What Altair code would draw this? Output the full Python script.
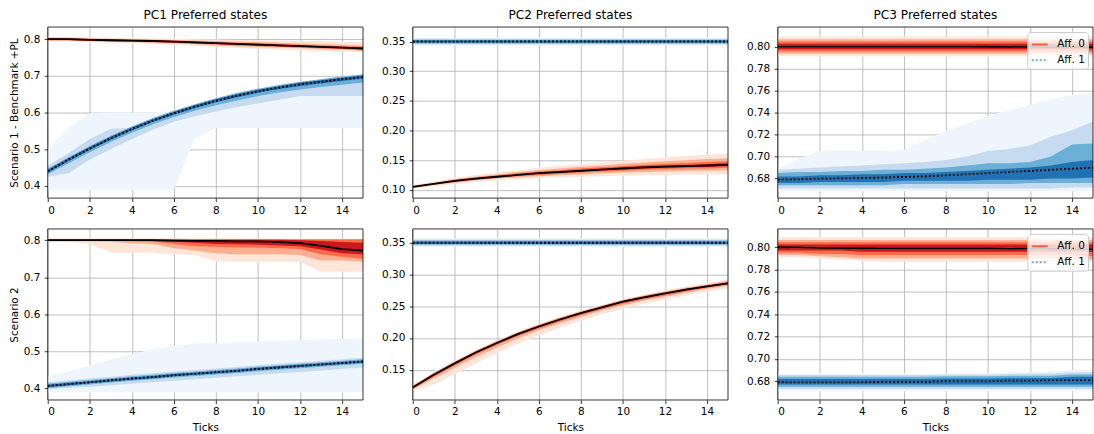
import altair as alt
import pandas as pd

# ---------------- shared categories / labels ----------------
TICKS = [0, 1, 2, 3, 4, 5, 6, 7, 8, 9, 10, 11, 12, 13, 14, 15]
X_TICK_VALUES = [0, 2, 4, 6, 8, 10, 12, 14]
COL_TITLES = ["PC1 Preferred states", "PC2 Preferred states", "PC3 Preferred states"]
ROW_TITLES = ["Scenario 1 - Benchmark +PL", "Scenario 2"]
SERIES_NAMES = ["Aff. 0", "Aff. 1"]

# y axis ticks per column
PC1_YTICKS = [0.4, 0.5, 0.6, 0.7, 0.8]
PC2_S1_YTICKS = [0.10, 0.15, 0.20, 0.25, 0.30, 0.35]
PC2_S2_YTICKS = [0.15, 0.20, 0.25, 0.30, 0.35]
PC3_YTICKS = [0.68, 0.70, 0.72, 0.74, 0.76, 0.78, 0.80]

# ---------------- PC1, scenario 1 ----------------
PC1_S1_A0_MED = [0.800, 0.800, 0.798, 0.797, 0.796, 0.795, 0.793, 0.791, 0.789, 0.787, 0.785, 0.783, 0.781, 0.779, 0.777, 0.775]
PC1_S1_A0_P05 = [0.794, 0.794, 0.792, 0.790, 0.789, 0.787, 0.785, 0.782, 0.779, 0.776, 0.774, 0.772, 0.770, 0.768, 0.766, 0.764]
PC1_S1_A0_P95 = [0.806, 0.806, 0.805, 0.804, 0.803, 0.802, 0.801, 0.800, 0.799, 0.798, 0.797, 0.796, 0.795, 0.794, 0.793, 0.792]
PC1_S1_A0_P10 = [0.796, 0.796, 0.794, 0.793, 0.792, 0.790, 0.788, 0.786, 0.783, 0.781, 0.779, 0.777, 0.775, 0.773, 0.771, 0.768]
PC1_S1_A0_P90 = [0.804, 0.804, 0.802, 0.801, 0.800, 0.799, 0.798, 0.796, 0.795, 0.793, 0.792, 0.790, 0.788, 0.786, 0.785, 0.783]
PC1_S1_A0_P25 = [0.797, 0.797, 0.795, 0.794, 0.793, 0.792, 0.790, 0.788, 0.786, 0.783, 0.781, 0.779, 0.777, 0.775, 0.773, 0.770]
PC1_S1_A0_P75 = [0.803, 0.803, 0.801, 0.800, 0.799, 0.798, 0.796, 0.794, 0.792, 0.790, 0.789, 0.787, 0.785, 0.783, 0.781, 0.779]
PC1_S1_A0_P40 = [0.798, 0.798, 0.796, 0.795, 0.794, 0.793, 0.791, 0.789, 0.787, 0.785, 0.783, 0.781, 0.779, 0.777, 0.775, 0.772]
PC1_S1_A0_P60 = [0.802, 0.802, 0.800, 0.799, 0.798, 0.797, 0.795, 0.793, 0.791, 0.789, 0.787, 0.785, 0.783, 0.781, 0.779, 0.777]

PC1_S1_A1_MED = [0.440, 0.472, 0.502, 0.530, 0.555, 0.578, 0.598, 0.616, 0.632, 0.646, 0.658, 0.668, 0.677, 0.684, 0.691, 0.697]
PC1_S1_A1_P05 = [0.390, 0.390, 0.390, 0.390, 0.390, 0.390, 0.390, 0.530, 0.557, 0.557, 0.557, 0.557, 0.557, 0.557, 0.557, 0.557]
PC1_S1_A1_P95 = [0.500, 0.560, 0.598, 0.600, 0.600, 0.600, 0.605, 0.622, 0.638, 0.652, 0.664, 0.674, 0.683, 0.691, 0.698, 0.706]
PC1_S1_A1_P10 = [0.425, 0.435, 0.472, 0.500, 0.528, 0.553, 0.575, 0.590, 0.603, 0.615, 0.625, 0.635, 0.645, 0.645, 0.645, 0.645]
PC1_S1_A1_P90 = [0.455, 0.490, 0.528, 0.556, 0.558, 0.582, 0.602, 0.620, 0.636, 0.650, 0.662, 0.672, 0.681, 0.689, 0.696, 0.704]
PC1_S1_A1_P25 = [0.432, 0.462, 0.492, 0.520, 0.545, 0.568, 0.588, 0.605, 0.620, 0.633, 0.645, 0.655, 0.663, 0.670, 0.676, 0.682]
PC1_S1_A1_P75 = [0.447, 0.479, 0.509, 0.537, 0.562, 0.585, 0.605, 0.623, 0.639, 0.653, 0.665, 0.675, 0.684, 0.691, 0.698, 0.704]
PC1_S1_A1_P40 = [0.436, 0.468, 0.498, 0.526, 0.551, 0.574, 0.594, 0.612, 0.628, 0.642, 0.654, 0.664, 0.672, 0.679, 0.686, 0.692]
PC1_S1_A1_P60 = [0.444, 0.476, 0.506, 0.534, 0.559, 0.582, 0.602, 0.620, 0.636, 0.650, 0.662, 0.672, 0.681, 0.688, 0.695, 0.701]

# ---------------- PC2, scenario 1 ----------------
PC2_S1_A0_MED = [0.105, 0.110, 0.115, 0.119, 0.122, 0.125, 0.128, 0.130, 0.132, 0.134, 0.136, 0.138, 0.139, 0.140, 0.141, 0.142]
PC2_S1_A0_P05 = [0.102, 0.106, 0.110, 0.113, 0.116, 0.118, 0.120, 0.121, 0.122, 0.123, 0.124, 0.125, 0.125, 0.126, 0.126, 0.126]
PC2_S1_A0_P95 = [0.108, 0.114, 0.120, 0.125, 0.129, 0.133, 0.137, 0.140, 0.143, 0.146, 0.149, 0.152, 0.155, 0.157, 0.159, 0.161]
PC2_S1_A0_P10 = [0.103, 0.108, 0.112, 0.116, 0.119, 0.121, 0.123, 0.125, 0.126, 0.128, 0.129, 0.130, 0.131, 0.132, 0.132, 0.133]
PC2_S1_A0_P90 = [0.107, 0.112, 0.118, 0.122, 0.126, 0.130, 0.133, 0.136, 0.139, 0.141, 0.144, 0.146, 0.148, 0.150, 0.152, 0.153]
PC2_S1_A0_P25 = [0.104, 0.109, 0.113, 0.117, 0.120, 0.123, 0.125, 0.127, 0.129, 0.131, 0.132, 0.134, 0.135, 0.136, 0.136, 0.137]
PC2_S1_A0_P75 = [0.106, 0.111, 0.117, 0.121, 0.124, 0.128, 0.131, 0.133, 0.136, 0.138, 0.140, 0.142, 0.144, 0.145, 0.147, 0.148]
PC2_S1_A0_P40 = [0.1045, 0.1095, 0.114, 0.118, 0.121, 0.124, 0.127, 0.129, 0.131, 0.133, 0.134, 0.136, 0.137, 0.138, 0.139, 0.140]
PC2_S1_A0_P60 = [0.1055, 0.1105, 0.116, 0.120, 0.123, 0.126, 0.129, 0.131, 0.134, 0.136, 0.138, 0.140, 0.141, 0.142, 0.143, 0.145]

PC2_S1_A1_MED = [0.350, 0.350, 0.350, 0.350, 0.350, 0.350, 0.350, 0.350, 0.350, 0.350, 0.350, 0.350, 0.350, 0.350, 0.350, 0.350]
PC2_S1_A1_P05 = [0.3435, 0.3435, 0.3435, 0.3435, 0.3435, 0.3435, 0.3435, 0.3435, 0.3435, 0.3435, 0.3435, 0.3435, 0.3435, 0.3435, 0.3435, 0.3435]
PC2_S1_A1_P95 = [0.3565, 0.3565, 0.3565, 0.3565, 0.3565, 0.3565, 0.3565, 0.3565, 0.3565, 0.3565, 0.3565, 0.3565, 0.3565, 0.3565, 0.3565, 0.3565]
PC2_S1_A1_P10 = [0.3452, 0.3452, 0.3452, 0.3452, 0.3452, 0.3452, 0.3452, 0.3452, 0.3452, 0.3452, 0.3452, 0.3452, 0.3452, 0.3452, 0.3452, 0.3452]
PC2_S1_A1_P90 = [0.3548, 0.3548, 0.3548, 0.3548, 0.3548, 0.3548, 0.3548, 0.3548, 0.3548, 0.3548, 0.3548, 0.3548, 0.3548, 0.3548, 0.3548, 0.3548]
PC2_S1_A1_P25 = [0.3468, 0.3468, 0.3468, 0.3468, 0.3468, 0.3468, 0.3468, 0.3468, 0.3468, 0.3468, 0.3468, 0.3468, 0.3468, 0.3468, 0.3468, 0.3468]
PC2_S1_A1_P75 = [0.3532, 0.3532, 0.3532, 0.3532, 0.3532, 0.3532, 0.3532, 0.3532, 0.3532, 0.3532, 0.3532, 0.3532, 0.3532, 0.3532, 0.3532, 0.3532]
PC2_S1_A1_P40 = [0.3484, 0.3484, 0.3484, 0.3484, 0.3484, 0.3484, 0.3484, 0.3484, 0.3484, 0.3484, 0.3484, 0.3484, 0.3484, 0.3484, 0.3484, 0.3484]
PC2_S1_A1_P60 = [0.3516, 0.3516, 0.3516, 0.3516, 0.3516, 0.3516, 0.3516, 0.3516, 0.3516, 0.3516, 0.3516, 0.3516, 0.3516, 0.3516, 0.3516, 0.3516]

# ---------------- PC3, scenario 1 ----------------
PC3_S1_A0_MED = [0.800, 0.800, 0.800, 0.800, 0.800, 0.800, 0.800, 0.800, 0.800, 0.800, 0.7998, 0.7997, 0.7996, 0.7995, 0.7995, 0.7995]
PC3_S1_A0_P05 = [0.791, 0.791, 0.791, 0.791, 0.791, 0.791, 0.791, 0.791, 0.791, 0.791, 0.791, 0.791, 0.791, 0.791, 0.791, 0.791]
PC3_S1_A0_P95 = [0.809, 0.809, 0.809, 0.809, 0.809, 0.809, 0.809, 0.809, 0.809, 0.809, 0.809, 0.809, 0.809, 0.809, 0.809, 0.809]
PC3_S1_A0_P10 = [0.7935, 0.7935, 0.7935, 0.7935, 0.7935, 0.7935, 0.7935, 0.7935, 0.7935, 0.7935, 0.7935, 0.7935, 0.7935, 0.7935, 0.7935, 0.7935]
PC3_S1_A0_P90 = [0.8065, 0.8065, 0.8065, 0.8065, 0.8065, 0.8065, 0.8065, 0.8065, 0.8065, 0.8065, 0.8065, 0.8065, 0.8065, 0.8065, 0.8065, 0.8065]
PC3_S1_A0_P25 = [0.7955, 0.7955, 0.7955, 0.7955, 0.7955, 0.7955, 0.7955, 0.7955, 0.7955, 0.7955, 0.7955, 0.7955, 0.7955, 0.7955, 0.7955, 0.7955]
PC3_S1_A0_P75 = [0.8045, 0.8045, 0.8045, 0.8045, 0.8045, 0.8045, 0.8045, 0.8045, 0.8045, 0.8045, 0.8045, 0.8045, 0.8045, 0.8045, 0.8045, 0.8045]
PC3_S1_A0_P40 = [0.7975, 0.7975, 0.7975, 0.7975, 0.7975, 0.7975, 0.7975, 0.7975, 0.7975, 0.7975, 0.7975, 0.7975, 0.7975, 0.7975, 0.7975, 0.7975]
PC3_S1_A0_P60 = [0.8025, 0.8025, 0.8025, 0.8025, 0.8025, 0.8025, 0.8025, 0.8025, 0.8025, 0.8025, 0.8025, 0.8025, 0.8025, 0.8025, 0.8025, 0.8025]

PC3_S1_A1_MED = [0.679, 0.6795, 0.680, 0.6803, 0.6806, 0.681, 0.6815, 0.682, 0.683, 0.684, 0.685, 0.686, 0.687, 0.688, 0.689, 0.690]
PC3_S1_A1_P05 = [0.6685, 0.6685, 0.6685, 0.6685, 0.6685, 0.6685, 0.6685, 0.6685, 0.6685, 0.6685, 0.6685, 0.6685, 0.6685, 0.6685, 0.6685, 0.6685]
PC3_S1_A1_P95 = [0.689, 0.698, 0.705, 0.705, 0.705, 0.705, 0.706, 0.715, 0.723, 0.730, 0.737, 0.742, 0.747, 0.752, 0.756, 0.758]
PC3_S1_A1_P10 = [0.671, 0.671, 0.671, 0.671, 0.671, 0.671, 0.671, 0.671, 0.671, 0.671, 0.671, 0.671, 0.671, 0.671, 0.672, 0.672]
PC3_S1_A1_P90 = [0.688, 0.689, 0.690, 0.691, 0.692, 0.693, 0.694, 0.695, 0.697, 0.700, 0.705, 0.707, 0.710, 0.718, 0.724, 0.732]
PC3_S1_A1_P25 = [0.674, 0.674, 0.674, 0.674, 0.674, 0.674, 0.675, 0.675, 0.675, 0.675, 0.675, 0.675, 0.676, 0.676, 0.676, 0.676]
PC3_S1_A1_P75 = [0.685, 0.686, 0.686, 0.687, 0.687, 0.688, 0.688, 0.689, 0.690, 0.692, 0.694, 0.694, 0.695, 0.700, 0.711, 0.712]
PC3_S1_A1_P40 = [0.676, 0.676, 0.677, 0.677, 0.677, 0.677, 0.678, 0.678, 0.678, 0.678, 0.679, 0.679, 0.679, 0.680, 0.680, 0.681]
PC3_S1_A1_P60 = [0.682, 0.682, 0.683, 0.683, 0.684, 0.684, 0.685, 0.685, 0.686, 0.687, 0.688, 0.689, 0.690, 0.692, 0.695, 0.697]

# ---------------- PC1, scenario 2 ----------------
PC1_S2_A0_MED = [0.800, 0.800, 0.800, 0.800, 0.800, 0.800, 0.799, 0.798, 0.798, 0.797, 0.797, 0.795, 0.792, 0.785, 0.776, 0.772]
PC1_S2_A0_P05 = [0.795, 0.795, 0.790, 0.766, 0.766, 0.766, 0.762, 0.760, 0.743, 0.742, 0.742, 0.742, 0.742, 0.715, 0.715, 0.715]
PC1_S2_A0_P95 = [0.805, 0.805, 0.805, 0.805, 0.805, 0.805, 0.805, 0.805, 0.805, 0.805, 0.804, 0.804, 0.804, 0.804, 0.804, 0.804]
PC1_S2_A0_P10 = [0.797, 0.797, 0.797, 0.796, 0.792, 0.790, 0.778, 0.772, 0.765, 0.762, 0.762, 0.762, 0.760, 0.745, 0.745, 0.742]
PC1_S2_A0_P90 = [0.803, 0.803, 0.803, 0.803, 0.803, 0.803, 0.803, 0.803, 0.803, 0.803, 0.803, 0.803, 0.803, 0.803, 0.803, 0.803]
PC1_S2_A0_P25 = [0.798, 0.798, 0.798, 0.798, 0.797, 0.796, 0.790, 0.784, 0.782, 0.781, 0.780, 0.778, 0.776, 0.762, 0.755, 0.750]
PC1_S2_A0_P75 = [0.802, 0.802, 0.802, 0.802, 0.802, 0.802, 0.802, 0.802, 0.802, 0.802, 0.802, 0.802, 0.802, 0.802, 0.802, 0.802]
PC1_S2_A0_P40 = [0.799, 0.799, 0.799, 0.799, 0.799, 0.798, 0.796, 0.793, 0.790, 0.789, 0.788, 0.786, 0.784, 0.775, 0.765, 0.762]
PC1_S2_A0_P60 = [0.801, 0.801, 0.801, 0.801, 0.801, 0.801, 0.801, 0.801, 0.801, 0.801, 0.801, 0.801, 0.800, 0.798, 0.795, 0.793]

PC1_S2_A1_MED = [0.406, 0.411, 0.416, 0.421, 0.426, 0.430, 0.435, 0.439, 0.443, 0.447, 0.452, 0.456, 0.460, 0.464, 0.468, 0.472]
PC1_S2_A1_P05 = [0.389, 0.389, 0.389, 0.389, 0.389, 0.389, 0.389, 0.389, 0.389, 0.389, 0.389, 0.389, 0.389, 0.389, 0.389, 0.389]
PC1_S2_A1_P95 = [0.432, 0.445, 0.462, 0.478, 0.492, 0.505, 0.515, 0.520, 0.522, 0.524, 0.526, 0.528, 0.530, 0.532, 0.533, 0.534]
PC1_S2_A1_P10 = [0.397, 0.401, 0.404, 0.408, 0.412, 0.416, 0.420, 0.424, 0.428, 0.432, 0.436, 0.440, 0.444, 0.448, 0.452, 0.456]
PC1_S2_A1_P90 = [0.416, 0.421, 0.426, 0.431, 0.436, 0.440, 0.445, 0.449, 0.453, 0.457, 0.462, 0.466, 0.470, 0.474, 0.478, 0.482]
PC1_S2_A1_P25 = [0.400, 0.405, 0.410, 0.415, 0.420, 0.424, 0.429, 0.433, 0.437, 0.441, 0.446, 0.450, 0.454, 0.458, 0.462, 0.466]
PC1_S2_A1_P75 = [0.412, 0.417, 0.422, 0.427, 0.432, 0.436, 0.441, 0.445, 0.449, 0.453, 0.458, 0.462, 0.466, 0.470, 0.474, 0.478]
PC1_S2_A1_P40 = [0.403, 0.408, 0.413, 0.418, 0.423, 0.427, 0.432, 0.436, 0.440, 0.444, 0.449, 0.453, 0.457, 0.461, 0.465, 0.469]
PC1_S2_A1_P60 = [0.409, 0.414, 0.419, 0.424, 0.429, 0.433, 0.438, 0.442, 0.446, 0.450, 0.455, 0.459, 0.463, 0.467, 0.471, 0.475]

# ---------------- PC2, scenario 2 ----------------
PC2_S2_A0_MED = [0.122, 0.142, 0.160, 0.177, 0.192, 0.206, 0.218, 0.229, 0.239, 0.248, 0.257, 0.264, 0.270, 0.276, 0.281, 0.286]
PC2_S2_A0_P05 = [0.117, 0.127, 0.143, 0.160, 0.176, 0.191, 0.204, 0.216, 0.227, 0.237, 0.246, 0.254, 0.261, 0.267, 0.273, 0.278]
PC2_S2_A0_P95 = [0.126, 0.146, 0.164, 0.181, 0.196, 0.210, 0.222, 0.233, 0.243, 0.252, 0.261, 0.268, 0.275, 0.281, 0.286, 0.292]
PC2_S2_A0_P10 = [0.119, 0.136, 0.153, 0.170, 0.185, 0.199, 0.212, 0.223, 0.233, 0.243, 0.251, 0.259, 0.265, 0.271, 0.277, 0.282]
PC2_S2_A0_P90 = [0.125, 0.145, 0.163, 0.180, 0.195, 0.209, 0.221, 0.232, 0.242, 0.251, 0.260, 0.267, 0.273, 0.279, 0.284, 0.290]
PC2_S2_A0_P25 = [0.120, 0.139, 0.157, 0.174, 0.189, 0.203, 0.215, 0.226, 0.236, 0.245, 0.254, 0.261, 0.267, 0.273, 0.279, 0.284]
PC2_S2_A0_P75 = [0.124, 0.144, 0.162, 0.179, 0.194, 0.208, 0.220, 0.231, 0.241, 0.250, 0.259, 0.266, 0.272, 0.278, 0.283, 0.288]
PC2_S2_A0_P40 = [0.121, 0.141, 0.159, 0.176, 0.191, 0.205, 0.217, 0.228, 0.238, 0.247, 0.256, 0.263, 0.269, 0.275, 0.280, 0.285]
PC2_S2_A0_P60 = [0.123, 0.143, 0.161, 0.178, 0.193, 0.207, 0.219, 0.230, 0.240, 0.249, 0.258, 0.265, 0.271, 0.277, 0.282, 0.287]

PC2_S2_A1_MED = [0.350, 0.350, 0.350, 0.350, 0.350, 0.350, 0.350, 0.350, 0.350, 0.350, 0.350, 0.350, 0.350, 0.350, 0.350, 0.350]
PC2_S2_A1_P05 = [0.3434, 0.3434, 0.3434, 0.3434, 0.3434, 0.3434, 0.3434, 0.3434, 0.3434, 0.3434, 0.3434, 0.3434, 0.3434, 0.3434, 0.3434, 0.3434]
PC2_S2_A1_P95 = [0.3566, 0.3566, 0.3566, 0.3566, 0.3566, 0.3566, 0.3566, 0.3566, 0.3566, 0.3566, 0.3566, 0.3566, 0.3566, 0.3566, 0.3566, 0.3566]
PC2_S2_A1_P10 = [0.345, 0.345, 0.345, 0.345, 0.345, 0.345, 0.345, 0.345, 0.345, 0.345, 0.345, 0.345, 0.345, 0.345, 0.345, 0.345]
PC2_S2_A1_P90 = [0.355, 0.355, 0.355, 0.355, 0.355, 0.355, 0.355, 0.355, 0.355, 0.355, 0.355, 0.355, 0.355, 0.355, 0.355, 0.355]
PC2_S2_A1_P25 = [0.3467, 0.3467, 0.3467, 0.3467, 0.3467, 0.3467, 0.3467, 0.3467, 0.3467, 0.3467, 0.3467, 0.3467, 0.3467, 0.3467, 0.3467, 0.3467]
PC2_S2_A1_P75 = [0.3533, 0.3533, 0.3533, 0.3533, 0.3533, 0.3533, 0.3533, 0.3533, 0.3533, 0.3533, 0.3533, 0.3533, 0.3533, 0.3533, 0.3533, 0.3533]
PC2_S2_A1_P40 = [0.3484, 0.3484, 0.3484, 0.3484, 0.3484, 0.3484, 0.3484, 0.3484, 0.3484, 0.3484, 0.3484, 0.3484, 0.3484, 0.3484, 0.3484, 0.3484]
PC2_S2_A1_P60 = [0.3516, 0.3516, 0.3516, 0.3516, 0.3516, 0.3516, 0.3516, 0.3516, 0.3516, 0.3516, 0.3516, 0.3516, 0.3516, 0.3516, 0.3516, 0.3516]

# ---------------- PC3, scenario 2 ----------------
PC3_S2_A0_MED = [0.800, 0.7998, 0.7995, 0.7993, 0.7991, 0.799, 0.799, 0.799, 0.799, 0.799, 0.799, 0.7988, 0.7987, 0.7985, 0.7982, 0.798]
PC3_S2_A0_P05 = [0.791, 0.791, 0.790, 0.789, 0.788, 0.787, 0.787, 0.787, 0.787, 0.787, 0.787, 0.787, 0.787, 0.787, 0.787, 0.787]
PC3_S2_A0_P95 = [0.809, 0.809, 0.809, 0.809, 0.809, 0.809, 0.809, 0.809, 0.809, 0.809, 0.809, 0.809, 0.809, 0.809, 0.809, 0.809]
PC3_S2_A0_P10 = [0.793, 0.793, 0.792, 0.791, 0.790, 0.790, 0.790, 0.790, 0.790, 0.790, 0.790, 0.790, 0.790, 0.790, 0.789, 0.789]
PC3_S2_A0_P90 = [0.8065, 0.8065, 0.8065, 0.8065, 0.8065, 0.8065, 0.8065, 0.8065, 0.8065, 0.8065, 0.8065, 0.8065, 0.8065, 0.8065, 0.8065, 0.8065]
PC3_S2_A0_P25 = [0.795, 0.795, 0.794, 0.794, 0.793, 0.793, 0.793, 0.793, 0.793, 0.793, 0.793, 0.793, 0.793, 0.793, 0.793, 0.792]
PC3_S2_A0_P75 = [0.8045, 0.8045, 0.8045, 0.8045, 0.8045, 0.8045, 0.8045, 0.8045, 0.8045, 0.8045, 0.8045, 0.8045, 0.8045, 0.8045, 0.8045, 0.8045]
PC3_S2_A0_P40 = [0.797, 0.797, 0.797, 0.797, 0.796, 0.796, 0.796, 0.796, 0.796, 0.796, 0.796, 0.796, 0.796, 0.796, 0.796, 0.796]
PC3_S2_A0_P60 = [0.8025, 0.8025, 0.8025, 0.8025, 0.8025, 0.8025, 0.8025, 0.8025, 0.8025, 0.8025, 0.8025, 0.8025, 0.8025, 0.8025, 0.8025, 0.8025]

PC3_S2_A1_MED = [0.679, 0.679, 0.679, 0.679, 0.679, 0.6795, 0.6795, 0.6795, 0.680, 0.680, 0.680, 0.6805, 0.6805, 0.681, 0.681, 0.681]
PC3_S2_A1_P05 = [0.671, 0.671, 0.671, 0.671, 0.671, 0.671, 0.671, 0.671, 0.671, 0.671, 0.671, 0.671, 0.671, 0.671, 0.671, 0.671]
PC3_S2_A1_P95 = [0.687, 0.687, 0.687, 0.687, 0.687, 0.687, 0.687, 0.687, 0.687, 0.687, 0.687, 0.688, 0.688, 0.689, 0.690, 0.690]
PC3_S2_A1_P10 = [0.673, 0.673, 0.673, 0.673, 0.673, 0.673, 0.673, 0.673, 0.673, 0.673, 0.673, 0.673, 0.673, 0.673, 0.673, 0.673]
PC3_S2_A1_P90 = [0.6855, 0.6855, 0.6855, 0.6855, 0.6855, 0.6855, 0.6855, 0.6855, 0.686, 0.686, 0.686, 0.6865, 0.687, 0.687, 0.688, 0.688]
PC3_S2_A1_P25 = [0.675, 0.675, 0.675, 0.675, 0.675, 0.675, 0.675, 0.675, 0.675, 0.675, 0.675, 0.675, 0.675, 0.675, 0.675, 0.675]
PC3_S2_A1_P75 = [0.684, 0.684, 0.684, 0.684, 0.684, 0.684, 0.684, 0.684, 0.6845, 0.6845, 0.6845, 0.685, 0.685, 0.685, 0.686, 0.686]
PC3_S2_A1_P40 = [0.677, 0.677, 0.677, 0.677, 0.677, 0.677, 0.677, 0.677, 0.677, 0.677, 0.677, 0.677, 0.677, 0.677, 0.677, 0.677]
PC3_S2_A1_P60 = [0.682, 0.682, 0.682, 0.682, 0.682, 0.682, 0.682, 0.682, 0.6825, 0.6825, 0.6825, 0.683, 0.683, 0.683, 0.684, 0.684]

# ---------------- styling ----------------
REDS = ["#fee5d9", "#fcae91", "#fb6a4a", "#cb181d"]
BLUES = ["#eef5fc", "#c6dbef", "#6baed6", "#2171b5"]
LEGEND_COLORS = ["#f4603f", "#6baed6"]
FONT = "DejaVu Sans"
W = 317
H = 172


def bands(p05, p95, p10, p90, p25, p75, p40, p60):
    return [(p05, p95), (p10, p90), (p25, p75), (p40, p60)]


def panel(col, row, ydom, yticks, yfmt, red_med, red_bands, blue_med, blue_bands, legend):
    xenc = alt.X(
        "t:Q",
        scale=alt.Scale(domain=[0, 15], nice=False, zero=False),
        axis=alt.Axis(values=X_TICK_VALUES, title="Ticks" if row == 1 else None, format="d"),
    )

    def yenc(field):
        return alt.Y(
            field + ":Q",
            scale=alt.Scale(domain=ydom, nice=False, zero=False),
            axis=alt.Axis(values=yticks, format=yfmt,
                          title=ROW_TITLES[row] if col == 0 else None),
        )

    layers = []
    for blist, colors in ((red_bands, REDS), (blue_bands, BLUES)):
        for (lo, hi), c in zip(blist, colors):
            df = pd.DataFrame({"t": TICKS, "lo": lo, "hi": hi})
            layers.append(
                alt.Chart(df).mark_area(color=c, opacity=1, clip=True).encode(
                    x=xenc, y=yenc("lo"), y2=alt.Y2("hi:Q")
                )
            )

    if legend:
        ldf = pd.DataFrame({
            "t": TICKS + TICKS,
            "v": red_med + blue_med,
            "series": [SERIES_NAMES[0]] * len(TICKS) + [SERIES_NAMES[1]] * len(TICKS),
        })
        leg = alt.Legend(
            title=None, orient="top-right", offset=5, padding=3,
            fillColor="rgba(255,255,255,0.8)", strokeColor="#cccccc", cornerRadius=3,
            symbolType="stroke", symbolSize=260, symbolStrokeWidth=2,
            labelFont=FONT, labelFontSize=10.5, labelColor="black", rowPadding=1,
            labelOffset=8,
        )
        layers.append(
            alt.Chart(ldf).mark_line(strokeWidth=2, clip=True).encode(
                x=xenc, y=yenc("v"),
                stroke=alt.Stroke("series:N", scale=alt.Scale(domain=SERIES_NAMES, range=LEGEND_COLORS), legend=leg),
                strokeDash=alt.StrokeDash("series:N", scale=alt.Scale(domain=SERIES_NAMES, range=[[1, 0], [2, 2]]), legend=leg),
            )
        )

    rdf = pd.DataFrame({"t": TICKS, "v": red_med})
    bdf = pd.DataFrame({"t": TICKS, "v": blue_med})
    layers.append(alt.Chart(rdf).mark_line(color="black", strokeWidth=1.8, clip=True).encode(x=xenc, y=yenc("v")))
    layers.append(alt.Chart(bdf).mark_line(color="black", strokeWidth=2, strokeDash=[2, 2], clip=True).encode(x=xenc, y=yenc("v")))

    frame = alt.Chart(pd.DataFrame({"k": [0]})).mark_rect(
        fillOpacity=0, stroke="black", strokeWidth=0.8
    ).encode(x=alt.value(0), x2=alt.value(W), y=alt.value(0), y2=alt.value(H))
    layers.append(frame)

    props = dict(width=W, height=H)
    if row == 0:
        props["title"] = alt.TitleParams(COL_TITLES[col])
    return alt.layer(*layers).properties(**props).resolve_scale(
        stroke="independent", strokeDash="independent")


A = panel(0, 0, [0.367, 0.833], PC1_YTICKS, ".1f",
          PC1_S1_A0_MED, bands(PC1_S1_A0_P05, PC1_S1_A0_P95, PC1_S1_A0_P10, PC1_S1_A0_P90, PC1_S1_A0_P25, PC1_S1_A0_P75, PC1_S1_A0_P40, PC1_S1_A0_P60),
          PC1_S1_A1_MED, bands(PC1_S1_A1_P05, PC1_S1_A1_P95, PC1_S1_A1_P10, PC1_S1_A1_P90, PC1_S1_A1_P25, PC1_S1_A1_P75, PC1_S1_A1_P40, PC1_S1_A1_P60), False)
B = panel(1, 0, [0.086, 0.3745], PC2_S1_YTICKS, ".2f",
          PC2_S1_A0_MED, bands(PC2_S1_A0_P05, PC2_S1_A0_P95, PC2_S1_A0_P10, PC2_S1_A0_P90, PC2_S1_A0_P25, PC2_S1_A0_P75, PC2_S1_A0_P40, PC2_S1_A0_P60),
          PC2_S1_A1_MED, bands(PC2_S1_A1_P05, PC2_S1_A1_P95, PC2_S1_A1_P10, PC2_S1_A1_P90, PC2_S1_A1_P25, PC2_S1_A1_P75, PC2_S1_A1_P40, PC2_S1_A1_P60), False)
C = panel(2, 0, [0.6623, 0.8177], PC3_YTICKS, ".2f",
          PC3_S1_A0_MED, bands(PC3_S1_A0_P05, PC3_S1_A0_P95, PC3_S1_A0_P10, PC3_S1_A0_P90, PC3_S1_A0_P25, PC3_S1_A0_P75, PC3_S1_A0_P40, PC3_S1_A0_P60),
          PC3_S1_A1_MED, bands(PC3_S1_A1_P05, PC3_S1_A1_P95, PC3_S1_A1_P10, PC3_S1_A1_P90, PC3_S1_A1_P25, PC3_S1_A1_P75, PC3_S1_A1_P40, PC3_S1_A1_P60), True)
D = panel(0, 1, [0.368, 0.8305], PC1_YTICKS, ".1f",
          PC1_S2_A0_MED, bands(PC1_S2_A0_P05, PC1_S2_A0_P95, PC1_S2_A0_P10, PC1_S2_A0_P90, PC1_S2_A0_P25, PC1_S2_A0_P75, PC1_S2_A0_P40, PC1_S2_A0_P60),
          PC1_S2_A1_MED, bands(PC1_S2_A1_P05, PC1_S2_A1_P95, PC1_S2_A1_P10, PC1_S2_A1_P90, PC1_S2_A1_P25, PC1_S2_A1_P75, PC1_S2_A1_P40, PC1_S2_A1_P60), False)
E = panel(1, 1, [0.1023, 0.3716], PC2_S2_YTICKS, ".2f",
          PC2_S2_A0_MED, bands(PC2_S2_A0_P05, PC2_S2_A0_P95, PC2_S2_A0_P10, PC2_S2_A0_P90, PC2_S2_A0_P25, PC2_S2_A0_P75, PC2_S2_A0_P40, PC2_S2_A0_P60),
          PC2_S2_A1_MED, bands(PC2_S2_A1_P05, PC2_S2_A1_P95, PC2_S2_A1_P10, PC2_S2_A1_P90, PC2_S2_A1_P25, PC2_S2_A1_P75, PC2_S2_A1_P40, PC2_S2_A1_P60), False)
F = panel(2, 1, [0.6632, 0.8164], PC3_YTICKS, ".2f",
          PC3_S2_A0_MED, bands(PC3_S2_A0_P05, PC3_S2_A0_P95, PC3_S2_A0_P10, PC3_S2_A0_P90, PC3_S2_A0_P25, PC3_S2_A0_P75, PC3_S2_A0_P40, PC3_S2_A0_P60),
          PC3_S2_A1_MED, bands(PC3_S2_A1_P05, PC3_S2_A1_P95, PC3_S2_A1_P10, PC3_S2_A1_P90, PC3_S2_A1_P25, PC3_S2_A1_P75, PC3_S2_A1_P40, PC3_S2_A1_P60), True)

RES = dict(x="independent", y="independent", stroke="independent", strokeDash="independent")

chart = alt.concat(
    A, B, C, D, E, F, columns=3, spacing={"row": 31, "column": 50}, bounds="flush"
).resolve_scale(**RES).properties(
    padding={"left": 9, "top": 8, "right": 0, "bottom": 0},
    background="white",
).configure(font=FONT).configure_axis(
    labelFont=FONT, labelFontSize=10.5, labelColor="black",
    titleFont=FONT, titleFontSize=10.5, titleFontWeight="normal", titleColor="black",
    tickColor="black", tickSize=3.5, tickWidth=0.8,
    domain=False, gridColor="#b0b0b0", gridWidth=0.8, zindex=1,
).configure_axisY(titlePadding=4, labelPadding=4.5).configure_axisX(
    titlePadding=5, labelPadding=3.5
).configure_title(
    font=FONT, fontSize=12.2, fontWeight="normal", color="black", offset=5,
).configure_view(stroke=None)

chart.save("out.html", embed_options={"renderer": "svg", "actions": False})
